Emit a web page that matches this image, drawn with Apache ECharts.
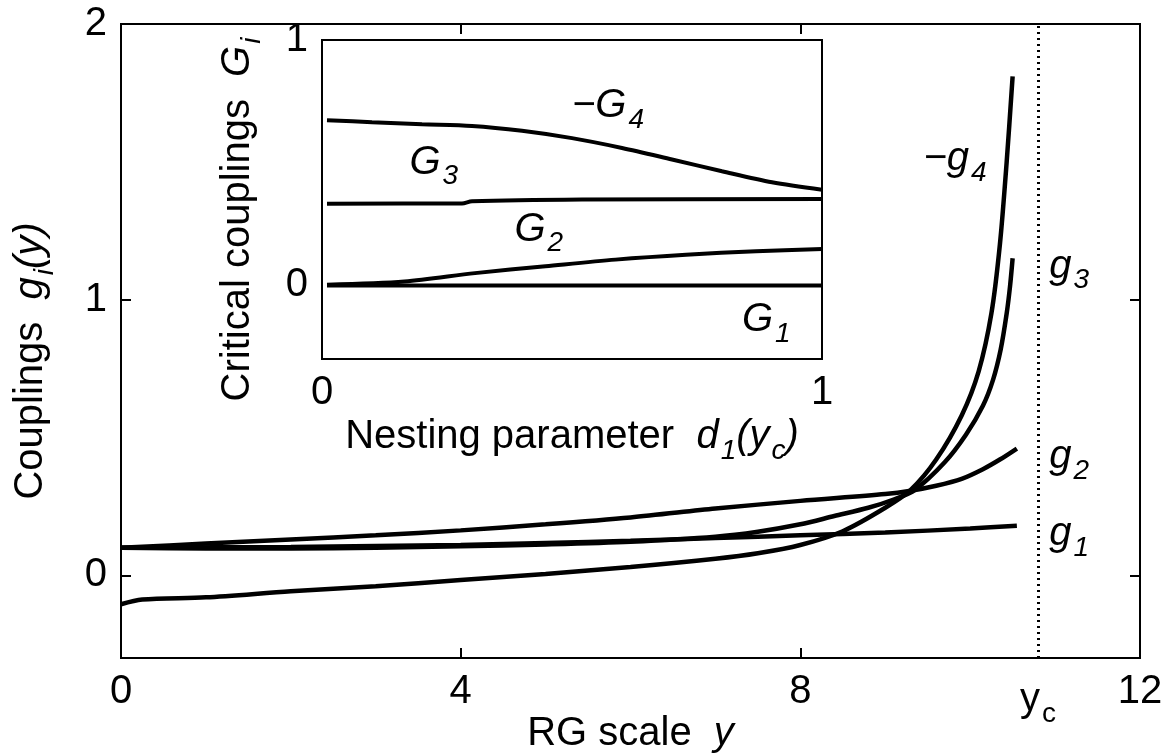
<!DOCTYPE html>
<html>
<head>
<meta charset="utf-8">
<script src="https://cdn.jsdelivr.net/npm/echarts@6/dist/echarts.min.js"></script>
<style>
  html, body { margin: 0; padding: 0; background: #fff; }
  #chart { width: 1167px; height: 756px; }
</style>
</head>
<body>
<div id="chart"></div>
<script>
// main panel, x = RG scale y
const g1X = [0, 2, 4, 5, 6, 7, 8, 9, 10, 10.55]
const g1Y = [0.10, 0.103, 0.11, 0.117, 0.125, 0.135, 0.145, 0.155, 0.17, 0.18]
const g2X = [0, 1, 2, 3, 4, 5, 6, 7, 8, 9, 9.3, 9.6, 9.9, 10.15, 10.35, 10.55]
const g2Y = [0.10, 0.115, 0.13, 0.145, 0.163, 0.185, 0.21, 0.242, 0.27, 0.295, 0.307, 0.325, 0.35, 0.385, 0.42, 0.46]
const g3X = [0, 1, 2, 3, 4, 5, 6, 7, 7.5, 8, 8.4, 8.8, 9.1, 9.35, 9.7, 9.95, 10.15, 10.27, 10.36, 10.43, 10.47, 10.5]
const g3Y = [0.10, 0.097, 0.097, 0.10, 0.105, 0.112, 0.122, 0.14, 0.158, 0.185, 0.215, 0.245, 0.275, 0.31, 0.41, 0.51, 0.615, 0.71, 0.82, 0.95, 1.05, 1.15]
const negG4X = [0, 0.25, 1, 2, 3, 4, 5, 6, 7, 7.5, 8, 8.5, 9, 9.3, 9.6, 9.9, 10.1, 10.25, 10.35, 10.43, 10.5]
const negG4Y = [-0.105, -0.088, -0.08, -0.058, -0.04, -0.017, 0.005, 0.03, 0.06, 0.08, 0.11, 0.16, 0.245, 0.31, 0.42, 0.58, 0.74, 0.95, 1.2, 1.5, 1.81]
const ycValue = 10.8
const mainXTicks = [0, 4, 8, 12]
const mainXLabels = [0, 4, 8, ycValue, 12]
const mainYTicks = [0, 1, 2]

// inset, x = nesting parameter d1(yc)
const insetG1X = [0.01, 1]
const insetG1Y = [0, 0]
const insetG2X = [0.01, 0.165, 0.306, 0.447, 0.587, 0.728, 0.868, 1]
const insetG2Y = [0.003, 0.016, 0.05, 0.078, 0.105, 0.125, 0.139, 0.148]
const insetG3X = [0.01, 0.28, 0.3, 0.52, 1]
const insetG3Y = [0.333, 0.334, 0.343, 0.350, 0.352]
const insetNegG4X = [0.01, 0.1, 0.2, 0.3, 0.4, 0.5, 0.6, 0.7, 0.8, 0.9, 1]
const insetNegG4Y = [0.673, 0.665, 0.657, 0.65, 0.63, 0.60, 0.56, 0.513, 0.465, 0.42, 0.39]
const insetTicks = [0, 1]

// curve names and where they sit, in data units
const mainNames = [[9.45, 1.51, '−g', '4'], [10.93, 1.12, 'g', '3'], [10.93, 0.43, 'g', '2'], [10.93, 0.15, 'g', '1']]
const insetNames = [[0.5, 0.73, '−G', '4'], [0.175, 0.5, 'G', '3'], [0.385, 0.227, 'G', '2'], [0.84, -0.14, 'G', '1']]

const FONT = 'Liberation Sans'
const FS = 40
const rich = {
  n: { fontFamily: FONT, fontSize: FS, color: '#000' },
  it: { fontFamily: FONT, fontSize: FS, fontStyle: 'italic', color: '#000' },
  sub: { fontFamily: FONT, fontSize: 28, fontStyle: 'italic', color: '#000', padding: [28, 0, 0, 2] },
  subUp: { fontFamily: FONT, fontSize: 28, color: '#000', padding: [28, 0, 0, 2] }
}

const pairs = (xs, ys) => xs.map((x, i) => [x, ys[i]])

const chart = echarts.init(document.getElementById('chart'))

function curve(xs, ys, ax, w) {
  return {
    type: 'line', xAxisIndex: ax, yAxisIndex: ax,
    data: pairs(xs, ys), showSymbol: false, smooth: 0.3,
    lineStyle: { color: '#000', width: w }, z: 3
  }
}

function names(list, ax) {
  return {
    type: 'scatter', xAxisIndex: ax, yAxisIndex: ax, symbolSize: 0,
    itemStyle: { opacity: 1 },
    data: list.map(d => ({ value: [d[0], d[1]], txt: '{it|' + d[2] + '}{sub|' + d[3] + '}' })),
    label: {
      show: true, position: 'right', distance: 0, color: '#000', opacity: 1,
      formatter: p => p.data.txt, rich: rich
    },
    z: 4
  }
}

const tickStyle = { inside: true, length: 10, lineStyle: { color: '#000', width: 2 } }
const noLine = { show: false, onZero: false }

const option = {
  animation: false,
  backgroundColor: '#fff',
  grid: [
    { left: 121, right: 27, top: 24, bottom: 98, outerBoundsMode: 'none', containLabel: false,
      show: true, borderColor: '#000', borderWidth: 2, backgroundColor: 'transparent' },
    { left: 322, right: 345, top: 40, bottom: 397, outerBoundsMode: 'none', containLabel: false,
      show: true, borderColor: '#000', borderWidth: 2, backgroundColor: '#fff' }
  ],
  xAxis: [
    {
      type: 'value', gridIndex: 0, min: 0, max: 12, position: 'bottom',
      axisLine: noLine, splitLine: { show: false },
      axisTick: Object.assign({ customValues: mainXTicks }, tickStyle),
      axisLabel: {
        customValues: mainXLabels, margin: 14, showMinLabel: true, showMaxLabel: true,
        formatter: v => v === ycValue ? '{n|y}{subUp|c}' : '{n|' + v + '}',
        rich: rich
      },
      name: '{n|RG scale  }{it|y}', nameLocation: 'middle', nameGap: 56, nameMoveOverlap: false,
      nameTextStyle: { rich: rich }
    },
    {
      type: 'value', gridIndex: 0, min: 0, max: 12, position: 'top',
      axisLine: noLine, splitLine: { show: false },
      axisTick: Object.assign({ customValues: mainXTicks }, tickStyle),
      axisLabel: { show: false }
    },
    {
      type: 'value', gridIndex: 1, min: 0, max: 1,
      axisLine: noLine, splitLine: { show: false }, axisTick: { show: false },
      axisLabel: {
        customValues: insetTicks, margin: 14, showMinLabel: true, showMaxLabel: true,
        fontFamily: FONT, fontSize: FS, color: '#000'
      },
      name: '{n|Nesting parameter  }{it|d}{sub|1}{it|(y}{sub|c}{it|)}', nameLocation: 'middle',
      nameGap: 50, nameMoveOverlap: false,
      nameTextStyle: { rich: rich }
    }
  ],
  yAxis: [
    {
      type: 'value', gridIndex: 0, min: -0.3, max: 2, position: 'left',
      axisLine: noLine, splitLine: { show: false },
      axisTick: Object.assign({ customValues: mainYTicks }, tickStyle),
      axisLabel: {
        customValues: mainYTicks, margin: 14, showMinLabel: true, showMaxLabel: true,
        fontFamily: FONT, fontSize: FS, color: '#000'
      },
      name: '{n|Couplings  }{it|g}{sub|i}{it|(y)}', nameLocation: 'middle', nameGap: 62, nameMoveOverlap: false,
      nameTextStyle: { rich: rich, padding: [0, 40, 0, 0] }
    },
    {
      type: 'value', gridIndex: 0, min: -0.3, max: 2, position: 'right',
      axisLine: noLine, splitLine: { show: false },
      axisTick: Object.assign({ customValues: mainYTicks }, tickStyle),
      axisLabel: { show: false }
    },
    {
      type: 'value', gridIndex: 1, min: -0.3, max: 1,
      axisLine: noLine, splitLine: { show: false }, axisTick: { show: false },
      axisLabel: {
        customValues: insetTicks, margin: 14, showMinLabel: true, showMaxLabel: true,
        fontFamily: FONT, fontSize: FS, color: '#000'
      },
      name: '{n|Critical couplings  }{it|G}{sub|i}', nameLocation: 'middle', nameGap: 56, nameMoveOverlap: false,
      nameTextStyle: { rich: rich, padding: [0, 40, 0, 0] }
    }
  ],
  series: [
    Object.assign(curve(g1X, g1Y, 0, 4.5), {
      markLine: {
        silent: true, symbol: 'none', label: { show: false },
        lineStyle: { color: '#000', width: 3, type: [2, 4] },
        data: [{ xAxis: ycValue }]
      }
    }),
    curve(g2X, g2Y, 0, 4.5),
    curve(g3X, g3Y, 0, 4.5),
    curve(negG4X, negG4Y, 0, 4.5),
    curve(insetG1X, insetG1Y, 2, 4),
    curve(insetG2X, insetG2Y, 2, 4),
    curve(insetG3X, insetG3Y, 2, 4),
    curve(insetNegG4X, insetNegG4Y, 2, 4),
    names(mainNames, 0),
    names(insetNames, 2)
  ]
}

chart.setOption(option)
</script>
</body>
</html>
